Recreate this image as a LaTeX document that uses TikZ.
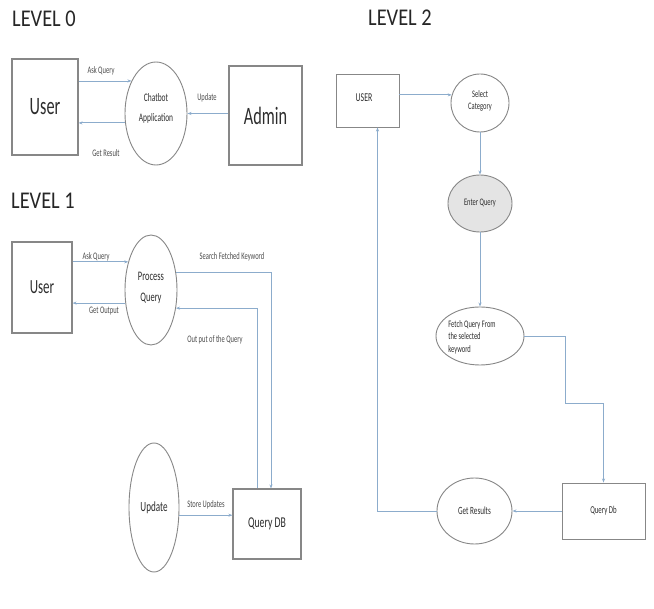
\documentclass[tikz,border=0pt]{standalone}
\usepackage{fontspec}
\setmainfont{Carlito}[FakeStretch=0.65]
\newfontfamily\headfont{Carlito}[FakeStretch=0.85]
\usetikzlibrary{shapes.geometric,arrows.meta}
\definecolor{flowblue}{RGB}{140,172,204}
\definecolor{edgegray}{RGB}{135,135,135}
\definecolor{inkgray}{RGB}{45,45,45}
\definecolor{labelgray}{RGB}{75,75,75}
\definecolor{shadefill}{RGB}{228,228,228}

\begin{document}
\begin{tikzpicture}[x=1pt,y=-1pt,
  every node/.style={text=inkgray},
  entity/.style={draw=edgegray, line width=1.1pt, rectangle, inner sep=0pt},
  process/.style={draw=edgegray, line width=0.9pt, ellipse, inner sep=0pt},
  flow/.style={draw=flowblue, line width=0.9pt, -{Stealth[length=4pt,width=3pt]}},
  tag/.style={inner sep=0pt, text=labelgray, font=\fontsize{10}{12}\selectfont},
  caption/.style={inner sep=0pt, align=center},
  heading/.style={inner sep=0pt, text=black!85, font=\headfont\fontsize{24}{26}\selectfont}
]
\useasboundingbox[fill=white] (0,0) rectangle (654,609);

% ---------------- Level 0 ----------------
\node[heading] (h0) at (44,18.5) {LEVEL 0};
\node[entity, minimum width=66pt, minimum height=96pt, font=\fontsize{25}{28}\selectfont] (user0) at (45,107) {User};
\node[process, minimum width=62pt, minimum height=103pt] (chat0) at (156,113.5) {};
\node[caption, font=\fontsize{11.5}{20}\selectfont] (chat0txt) at (156,108) {Chatbot\\Application};
\node[entity, minimum width=73pt, minimum height=99pt, font=\fontsize{25}{28}\selectfont] (admin0) at (265.5,115.5) {Admin};

\draw[flow] (user0.east |- chat0.127) -- (chat0.127);
\draw[flow] (chat0.197) -- (user0.east |- chat0.197);
\draw[flow] (admin0.west |- chat0.east) -- (chat0.east);

\node[tag] (ask0) at (101,71) {Ask Query};
\node[tag] (res0) at (106,153) {Get Result};
\node[tag] (upd0) at (207,98) {Update};

% ---------------- Level 1 ----------------
\node[heading] (h1) at (43,201) {LEVEL 1};
\node[entity, minimum width=60pt, minimum height=91pt, font=\fontsize{20}{24}\selectfont] (user1) at (42,287.5) {User};
\node[process, minimum width=52pt, minimum height=110pt] (proc1) at (151,290) {};
\node[caption, font=\fontsize{13}{21}\selectfont] (proc1txt) at (151,288) {Process\\Query};
\node[entity, minimum width=68pt, minimum height=70pt, font=\fontsize{15}{18}\selectfont] (qdb1) at (267,524) {Query DB};
\node[process, minimum width=50pt, minimum height=129pt, font=\fontsize{14}{16}\selectfont] (upd1) at (154,507.5) {Update};

\draw[flow] (user1.east |- proc1.129) -- (proc1.129);
\draw[flow] (proc1.207) -- (user1.east |- proc1.207);
\draw[flow] (proc1.35) -| ([xshift=4pt]qdb1.north);
\draw[flow] ([xshift=-10pt]qdb1.north) |- (proc1.324);
\draw[flow] (upd1.343) -- (qdb1.west |- upd1.343);

\node[tag] (ask1) at (96,257) {Ask Query};
\node[tag] (out1) at (104,311) {Get Output};
\node[tag] (srch1) at (232,257) {Search Fetched Keyword};
\node[tag] (qout1) at (215,340) {Out put of the Query};
\node[tag] (store1) at (206,505) {Store Updates};

% ---------------- Level 2 ----------------
\node[heading] (h2) at (400,18) {LEVEL 2};
\node[entity, line width=0.9pt, minimum width=63pt, minimum height=53pt] (user2) at (367.5,100.5) {};
\node[caption, font=\fontsize{12}{14}\selectfont] (user2txt) at (364,98) {USER};
\node[process, minimum width=58pt, minimum height=58pt] (sel) at (480,103) {};
\node[caption, font=\fontsize{10}{12}\selectfont] (seltxt) at (480,101) {Select\\Category};
\node[process, fill=shadefill, minimum width=64pt, minimum height=57pt, font=\fontsize{10}{12}\selectfont] (enter) at (480,203.5) {Enter Query};
\node[process, minimum width=88pt, minimum height=58pt] (fetch) at (480,336) {};
\node[inner sep=0pt, align=left, font=\fontsize{10}{12.5}\selectfont] (fetchtxt) at (472,337) {Fetch Query From\\the selected\\keyword};
\node[entity, line width=0.9pt, minimum width=83pt, minimum height=56pt, font=\fontsize{10.5}{12}\selectfont] (qdb2) at (603.5,511) {Query Db};
\node[process, minimum width=75pt, minimum height=66pt, font=\fontsize{11}{13}\selectfont] (getres) at (474.5,511) {Get Results};
\coordinate (bend2) at (565,403);

\draw[flow] (user2.east |- sel.164) -- (sel.164);
\draw[flow] (sel.south) -- (enter.north);
\draw[flow] (enter.south) -- (fetch.north);
\draw[flow] (fetch.east) -| (bend2) -| (qdb2.north);
\draw[flow] (qdb2.west) -- (getres.east);
\draw[flow] (getres.west) -| ([xshift=10pt]user2.south);
\end{tikzpicture}
\end{document}
